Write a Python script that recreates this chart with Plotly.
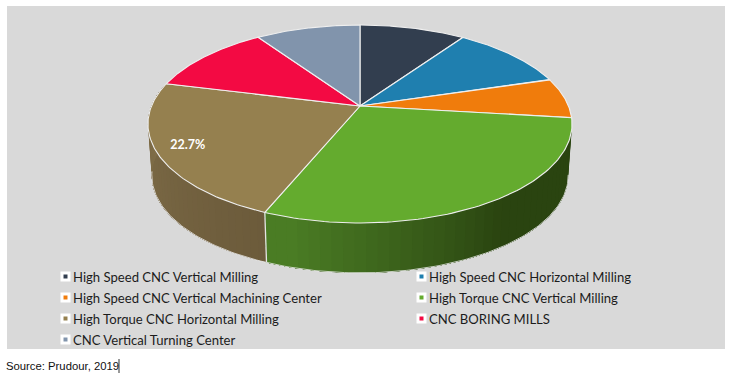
import numpy as np
import plotly.graph_objects as go

categories = ["High Speed CNC Vertical Milling", "High Speed CNC Horizontal Milling",
              "High Speed CNC Vertical Machining Center", "High Torque CNC Vertical Milling",
              "High Torque CNC Horizontal Milling", "CNC BORING MILLS", "CNC Vertical Turning Center"]
shares = [9.6, 10.7, 6.6, 29.3, 22.7, 11.6, 9.5]
colors = ["#323E4F", "#1F7FAF", "#F07C0C", "#64AB2E", "#95804F", "#F30A43", "#8194AC"]
side_light = {3: "#4A7C24", 4: "#82704A"}
side_dark = {3: "#2A4410", 4: "#6C5B3B"}
source_text = "Source: Prudour, 2019"

# projection of the tilted disc into page pixels
CX, CY, A, B, K = 360.0, 106.0, 95.7, 208.5, 0.1818
DEPTH, SHRINK = 52.0, 0.982

def top_rim(t, r=1.0):
    d = 1 + K * np.cos(t)
    return CX + r * B * np.sin(t) / d, CY - r * A * np.cos(t) / d

def low_rim(t):
    d = 1 + K * np.cos(t)
    return CX + SHRINK * B * np.sin(t) / d, CY + DEPTH - SHRINK * A * np.cos(t) / d

def mix(a, b, f):
    pa = [int(a[i:i + 2], 16) for i in (1, 3, 5)]
    pb = [int(b[i:i + 2], 16) for i in (1, 3, 5)]
    return "#%02x%02x%02x" % tuple(round(x + (y - x) * f) for x, y in zip(pa, pb))

edges = np.radians(np.cumsum([0] + shares) * 3.6)
fig = go.Figure()

def poly(xs, ys, fill, line=None, width=0):
    fig.add_trace(go.Scatter(x=xs, y=ys, mode="lines", fill="toself", fillcolor=fill,
                             line=dict(color=line or fill, width=width),
                             hoverinfo="skip", showlegend=False))

# side wall: each band runs on to the end of its slice, so that later bands
# overpaint earlier ones and no seams show between them
for i in (4, 3):
    a0, a1 = edges[i], edges[i + 1]
    steps = 40
    ts = np.linspace(a0, a1, steps + 1)
    for j in range(steps):
        f = j / (steps - 1)
        if i == 3:   # dark at the right, lighter towards the seam
            col = mix(side_dark[i], side_light[i], min(1.0, max(0.0, (f - 0.45) / 0.5)))
        else:        # dark at the seam, lighter towards the left edge
            col = mix(side_dark[i], side_light[i], f)
        tt = np.linspace(ts[j], a1, 60)
        xt, yt = top_rim(tt)
        xl, yl = low_rim(tt[::-1])
        poly(np.r_[xt, xl, xt[0]], np.r_[yt, yl, yt[0]], col)

# light rim under the wall and the seam between brown and green
tb = np.linspace(np.radians(100), np.radians(262), 160)
xb, yb = low_rim(tb)
fig.add_trace(go.Scatter(x=xb, y=yb, mode="lines", line=dict(color="#EDEDED", width=0.8),
                         hoverinfo="skip", showlegend=False))
xs0, ys0 = top_rim(edges[4])
xs1, ys1 = low_rim(edges[4])
fig.add_trace(go.Scatter(x=[xs0, xs1], y=[ys0, ys1], mode="lines", line=dict(color="#E4E4E4", width=1.3),
                         hoverinfo="skip", showlegend=False))

# top face
for i, col in enumerate(colors):
    tt = np.linspace(edges[i], edges[i + 1], 90)
    xt, yt = top_rim(tt)
    poly(np.r_[CX, xt, CX], np.r_[CY, yt, CY], col, "#EFEFEF", 1.1)

# data label on the brown slice
mid = (edges[4] + edges[5]) / 2
lx, ly = top_rim(mid, 0.85)
fig.add_trace(go.Scatter(x=[lx], y=[ly], mode="text", text=[f"{shares[4]}%"], textposition="middle center",
                         textfont=dict(family="Lato", size=12.5, color="white", weight="bold"),
                         hoverinfo="skip", showlegend=False))

# legend, two columns
col_x = [65.5, 421.5]
for i, (name, col) in enumerate(zip(categories, colors)):
    x = col_x[i % 2]
    y = 276.5 + 21 * (i // 2)
    fig.add_trace(go.Scatter(x=[x], y=[y], mode="markers", showlegend=False, hoverinfo="skip",
                             marker=dict(symbol="square", size=7, color=col, line=dict(color="white", width=3))))
    fig.add_annotation(x=x + 5.2, y=y, text=name, showarrow=False, xanchor="left", yanchor="middle",
                       font=dict(family="Lato", size=13.1, color="#1C1C1C"))

fig.add_annotation(x=4, y=366, text=source_text, showarrow=False, xanchor="left", yanchor="middle",
                   font=dict(family="Liberation Sans", size=11.3, color="#111111"))

fig.update_layout(
    width=735, height=377, margin=dict(l=0, r=0, t=0, b=0),
    paper_bgcolor="white", plot_bgcolor="white", showlegend=False,
    xaxis=dict(range=[0, 735], visible=False, fixedrange=True),
    yaxis=dict(range=[377, 0], visible=False, fixedrange=True),
    shapes=[
        dict(type="rect", xref="x", yref="y", x0=7, x1=725, y0=6, y1=349, fillcolor="#D9D9D9",
             line=dict(width=0), layer="below"),
        dict(type="line", xref="x", yref="y", x0=119, x1=119, y0=359, y1=373,
             line=dict(color="#333333", width=1)),
    ],
)
fig.write_html("out.html", config={"displayModeBar": False},
               post_script="document.body.style.margin='0';document.body.style.overflow='hidden';")
